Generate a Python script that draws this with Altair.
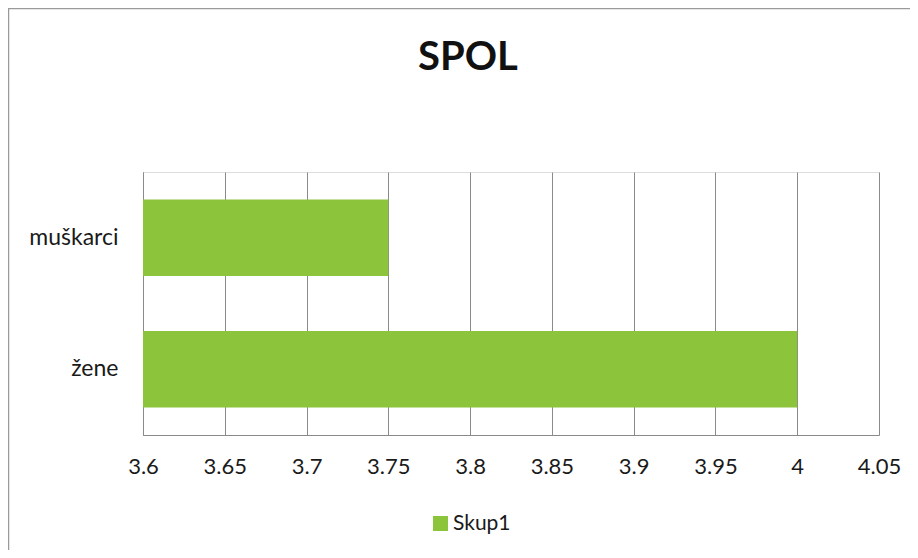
import altair as alt
import pandas as pd

categories = ["muškarci", "žene"]
values = [3.75, 4.0]
baseline = [3.6, 3.6]
series = ["Skup1", "Skup1"]
x_ticks = [3.6, 3.65, 3.7, 3.75, 3.8, 3.85, 3.9, 3.95, 4.0, 4.05]

df = pd.DataFrame({"spol": categories, "vrijednost": values, "od": baseline, "serija": series})

FONT = "Lato"
GREEN = "#8cc43c"
GRID = "#8a8a8a"

bars = alt.Chart(df).mark_bar().encode(
    y=alt.Y("spol:N", sort=categories, title=None,
            scale=alt.Scale(paddingInner=0.42, paddingOuter=0.21),
            axis=alt.Axis(labelFontSize=23, labelColor="#1a1a1a", labelFont=FONT,
                          ticks=False, domainColor=GRID, labelPadding=25, grid=False)),
    x=alt.X("vrijednost:Q", title=None,
            scale=alt.Scale(domain=[3.6, 4.05], zero=False, nice=False),
            axis=alt.Axis(values=x_ticks, format=".3~g", labelFontSize=22,
                          labelColor="#1a1a1a", labelFont=FONT, ticks=False,
                          domainColor=GRID, gridColor=GRID, gridOpacity=1,
                          labelPadding=21, labelFlush=False)),
    x2="od:Q",
    color=alt.Color("serija:N", scale=alt.Scale(domain=["Skup1"], range=[GREEN]),
                    legend=alt.Legend(title=None, orient="none", legendX=287, legendY=341,
                                      symbolType="square", symbolSize=225,
                                      symbolStrokeWidth=0, labelFontSize=21,
                                      labelFont=FONT, labelColor="#1a1a1a",
                                      labelOffset=2)),
)

border = alt.Chart(pd.DataFrame({"a": [0]})).mark_rect(
    fill=None, stroke="#9a9a9a", strokeWidth=1.5
).encode(
    x=alt.value(-134.5), x2=alt.value(771.5),
    y=alt.value(-163.5), y2=alt.value(384),
)

chart = alt.layer(border, bars).properties(
    width=736, height=263,
    autosize=alt.AutoSizeParams(type="none"),
    padding={"left": 135, "top": 164, "right": 31, "bottom": 115},
    title=alt.Title("SPOL", fontSize=40, font=FONT, fontWeight="bold",
                    color="#111111", anchor="middle", frame="group",
                    dx=-43, offset=-70),
).configure_view(stroke=None).configure(background="white")

chart.save("out.html", embed_options={"renderer": "svg", "actions": False})
